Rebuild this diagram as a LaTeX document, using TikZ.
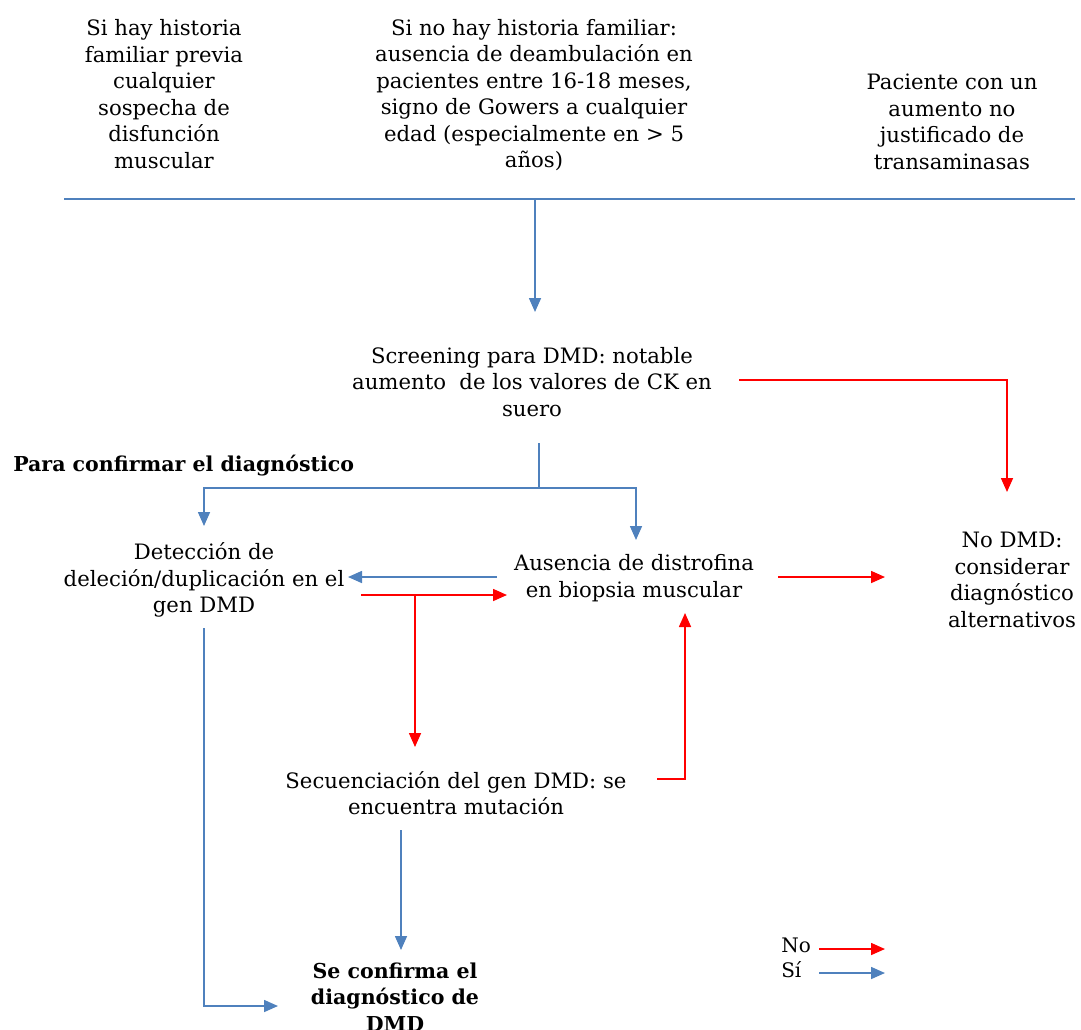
\documentclass[tikz,border=0pt]{standalone}
\usepackage{fontspec}
\setmainfont{DejaVu Serif}
\usetikzlibrary{arrows.meta}
\definecolor{siblue}{HTML}{4F81BD}
\definecolor{nored}{HTML}{FF0000}
\begin{document}
\begin{tikzpicture}[x=0.75pt,y=-0.75pt,
  txt/.style={inner sep=0pt,align=center,font=\fontsize{15.9}{19.9}\selectfont},
  boldtxt/.style={inner sep=0pt,align=center,font=\fontsize{15.4}{19.9}\selectfont\bfseries},
  legtxt/.style={inner sep=0pt,anchor=west,font=\fontsize{15}{18}\selectfont},
  yes/.style={draw=siblue,line width=1.2pt},
  no/.style={draw=nored,line width=1.2pt},
  tip/.style={-{Triangle[length=10.5pt,width=9pt]}}]
\useasboundingbox (0,0) rectangle (1081,1029);

% entry criteria
\node[txt] (fam) at (164,94) {Si hay historia\\familiar previa\\cualquier\\sospecha de\\disfunción\\muscular};
\node[txt] (nofam) at (534,95) {Si no hay historia familiar:\\ausencia de deambulación en\\pacientes entre 16-18 meses,\\signo de Gowers a cualquier\\edad (especialmente en > 5\\años)};
\node[txt] (trans) at (952,122) {Paciente con un\\aumento no\\justificado de\\transaminasas};

% screening and outcomes
\node[txt] (screen) at (532,382) {Screening para DMD: notable\\aumento\ \ de los valores de CK en\\suero};
\node[boldtxt,anchor=west] (confirm) at (13,466) {Para confirmar el diagnóstico};
\node[txt] (delec) at (204,580) {Detección de\\deleción/duplicación en el\\gen DMD};
\node[txt] (biop) at (634,578) {Ausencia de distrofina\\en biopsia muscular};
\node[txt] (nodmd) at (1012,580) {No DMD:\\considerar\\diagnóstico\\alternativos};
\node[txt] (secu) at (456,793) {Secuenciación del gen DMD: se\\encuentra mutación};
\node[boldtxt] (final) at (395,997) {Se confirma el\\diagnóstico de\\DMD};

% legend
\node[legtxt] (lno) at (781,945) {No};
\node[legtxt] (lsi) at (781,970) {Sí};

% connector end points
\coordinate (barL) at (64,199);
\coordinate (barR) at (1075,199);
\coordinate (barM) at (535,199);
\coordinate (screenTop) at (535,312);
\coordinate (scrR) at (739,380);
\coordinate (scrRc) at (1007,380);
\coordinate (nodmdTop) at (1007,492);
\coordinate (scrB) at (539,443);
\coordinate (fork) at (539,488);
\coordinate (forkL) at (204,488);
\coordinate (forkR) at (636,488);
\coordinate (delecTop) at (204,526);
\coordinate (biopTop) at (636,540);
\coordinate (biopL) at (497,577);
\coordinate (delecR) at (348,577);
\coordinate (delecR2) at (361,595);
\coordinate (redJ) at (415,595);
\coordinate (biopL2) at (507,595);
\coordinate (secuTop) at (415,747);
\coordinate (biopR) at (778,577);
\coordinate (nodmdL) at (885,577);
\coordinate (secuR) at (657,779);
\coordinate (secuRc) at (685,779);
\coordinate (biopB) at (685,613);
\coordinate (secuB) at (401,830);
\coordinate (finalTop) at (401,950);
\coordinate (delecB) at (204,628);
\coordinate (delecBc) at (204,1006);
\coordinate (finalL) at (278,1006);
\coordinate (lnoA) at (819,949);
\coordinate (lnoB) at (885,949);
\coordinate (lsiA) at (819,973);
\coordinate (lsiB) at (885,973);

% connectors
\draw[yes] (barL) -- (barR);
\draw[yes,tip] (barM) -- (screenTop);
\draw[no,tip] (scrR) -- (scrRc) -- (nodmdTop);
\draw[yes] (scrB) -- (fork);
\draw[yes,tip] (fork) -- (forkL) -- (delecTop);
\draw[yes,tip] (fork) -- (forkR) -- (biopTop);
\draw[yes,tip] (biopL) -- (delecR);
\draw[no,tip] (delecR2) -- (biopL2);
\draw[no,tip] (redJ) -- (secuTop);
\draw[no,tip] (biopR) -- (nodmdL);
\draw[no,tip] (secuR) -- (secuRc) -- (biopB);
\draw[yes,tip] (secuB) -- (finalTop);
\draw[yes,tip] (delecB) -- (delecBc) -- (finalL);
\draw[no,tip] (lnoA) -- (lnoB);
\draw[yes,tip] (lsiA) -- (lsiB);
\end{tikzpicture}
\end{document}
